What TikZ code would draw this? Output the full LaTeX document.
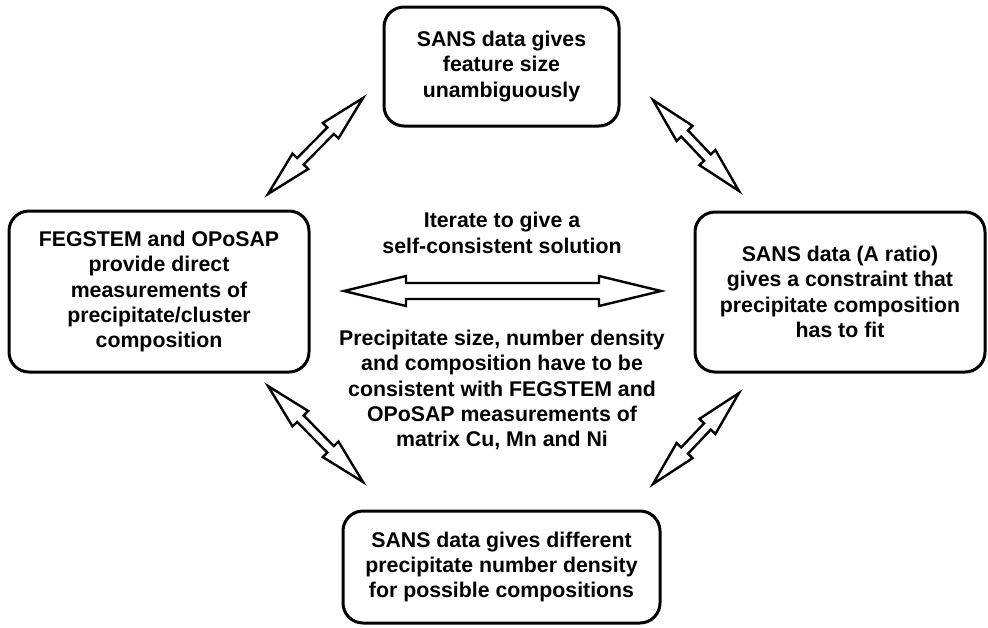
\documentclass[tikz,border=0pt]{standalone}
\usepackage{fontspec}
\setmainfont{Liberation Sans}
\usetikzlibrary{calc}

\tikzset{
  txt/.style={font=\bfseries\fontsize{10.65}{12.65}\selectfont,align=center,inner sep=0pt},
  box/.style={txt,draw,line width=1.5pt,rounded corners=10pt},
  fatarrow/.style={draw,line width=1.2pt,fill=white,line join=miter}
}
% hollow double arrow between two named points:
% #1,#2 ends, #3 half shaft, #4 half head, #5 head length
\newcommand{\dblarrow}[5]{%
  \coordinate (#1h) at ($(#1)!#5!(#2)$);
  \coordinate (#2h) at ($(#2)!#5!(#1)$);
  \draw[fatarrow] (#1) -- ($(#1h)!#4!90:(#2)$) -- ($(#1h)!#3!90:(#2)$)
    -- ($(#2h)!#3!-90:(#1)$) -- ($(#2h)!#4!-90:(#1)$) -- (#2)
    -- ($(#2h)!#4!90:(#1)$) -- ($(#2h)!#3!90:(#1)$)
    -- ($(#1h)!#3!-90:(#2)$) -- ($(#1h)!#4!-90:(#2)$) -- cycle;}

\begin{document}
\begin{tikzpicture}[x=0.5pt,y=-0.5pt]
\useasboundingbox (0,0) rectangle (988,627);
% boxes
\node[box,minimum width=117.5pt,minimum height=59.5pt] (size) at (501.5,66.5) {SANS data gives\\feature size\\unambiguously};
\node[box,minimum width=150pt,minimum height=80.5pt] (fegstem) at (159,291.5) {FEGSTEM and OPoSAP\\provide direct\\measurements of\\precipitate/cluster\\composition};
\node[box,minimum width=145pt,minimum height=80pt] (ratio) at (840,292) {SANS data (A ratio)\\gives a constraint that\\precipitate composition\\has to fit};
\node[box,minimum width=158.5pt,minimum height=56pt] (density) at (501.5,567) {SANS data gives different\\precipitate number density\\for possible compositions};
% middle texts
\node[txt] (iterate) at (502,233) {Iterate to give a\\self-consistent solution};
\node[txt] (consist) at (502,390) {Precipitate size, number density\\and composition have to be\\consistent with FEGSTEM and\\OPoSAP measurements of\\matrix Cu, Mn and Ni};
% arrow ends
\coordinate (tlA) at (268,194); \coordinate (tlB) at (363,98);
\coordinate (trA) at (653,100); \coordinate (trB) at (739,191);
\coordinate (blA) at (268,386); \coordinate (blB) at (363,482);
\coordinate (brA) at (739,393); \coordinate (brB) at (653,484);
\coordinate (midA) at (344,291); \coordinate (midB) at (661,291);
\dblarrow{tlA}{tlB}{2.3pt}{5.5pt}{23pt}
\dblarrow{trA}{trB}{2.3pt}{5.5pt}{23pt}
\dblarrow{blA}{blB}{2.3pt}{5.5pt}{23pt}
\dblarrow{brA}{brB}{2.3pt}{5.5pt}{23pt}
\dblarrow{midA}{midB}{4pt}{7.5pt}{31pt}
\end{tikzpicture}
\end{document}
